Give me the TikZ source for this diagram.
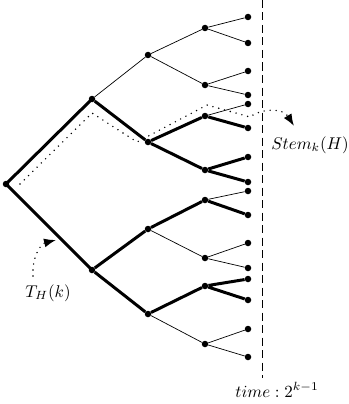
\documentclass[tikz,border=0pt]{standalone}
\usetikzlibrary{arrows.meta}
\begin{document}
\begin{tikzpicture}[x=1pt,y=-1pt,
  dot/.style={circle,fill=black,inner sep=0pt,minimum size=6.5pt},
  thin edge/.style={line width=0.7pt},
  thick edge/.style={line width=3pt},
  dotpath/.style={line width=1.6pt,line cap=round,dash pattern=on 0pt off 6pt},
  timeline/.style={line width=0.9pt,dash pattern=on 8pt off 4.5pt},
  lab/.style={scale=1.7,inner sep=0pt},
  tip/.style={-{Latex[length=12pt,width=9pt]}}]
\useasboundingbox (0,0) rectangle (348,404);
% nodes
\node[dot] (r) at (6,184) {};
\node[dot] (a) at (92,99) {};
\node[dot] (b) at (92,270) {};
\node[dot] (a1) at (148,55) {};
\node[dot] (a2) at (148,142) {};
\node[dot] (b1) at (148,229) {};
\node[dot] (b2) at (148,314) {};
\node[dot] (c1) at (205,28) {};
\node[dot] (c2) at (205,85) {};
\node[dot] (c3) at (205,116) {};
\node[dot] (c4) at (205,170) {};
\node[dot] (c5) at (205,200) {};
\node[dot] (c6) at (205,258) {};
\node[dot] (c7) at (205,286) {};
\node[dot] (c8) at (205,344) {};
\foreach \i/\y in {1/17,2/43,3/71,4/95,5/104,6/128,7/157,8/182,9/191,10/215,11/243,12/268,13/279,14/300,15/329,16/357}
  \node[dot] (l\i) at (248,\y) {};
% thin edges
\draw[thin edge] (a)--(a1) (a1)--(c1) (a1)--(c2) (c1)--(l1) (c1)--(l2) (c2)--(l3) (c2)--(l4)
  (c3)--(l5) (c5)--(l9) (b1)--(c6) (c6)--(l11) (c6)--(l12) (b2)--(c8) (c8)--(l15) (c8)--(l16);
% thick edges
\draw[thick edge] (r.center)--(a.center) (r.center)--(b.center) (a)--(a2) (a2)--(c3) (c3)--(l6) (a2)--(c4) (c4)--(l7) (c4)--(l8)
  (b)--(b1) (b1)--(c5) (c5)--(l10) (b)--(b2) (b2)--(c7) (c7)--(l13) (c7)--(l14);
% time line
\coordinate (tt) at (262,0);
\coordinate (tb) at (262,378);
\draw[timeline] (tt)--(tb);
\node[lab,anchor=base] (time) at (277,397) {$time:2^{k-1}$};
% stem path
\coordinate (s0) at (20,184);
\coordinate (s1) at (92,113);
\coordinate (s2) at (137,142);
\coordinate (s3) at (207,105);
\coordinate (s4) at (250,117);
\coordinate (s5) at (294,126);
\draw[dotpath,tip] (s0)--(s1)--(s2)--(s3)--(s4) .. controls (262,108) and (283,108) .. (s5);
\node[lab,anchor=west] (stem) at (271,145) {$Stem_k(H)$};
% T_H(k)
\node[lab] (th) at (48,293) {$T_H(k)$};
\coordinate (t0) at (33,276);
\coordinate (t1) at (56,240);
\draw[dotpath,tip] (t0) .. controls (32,258) and (40,244) .. (t1);
\end{tikzpicture}
\end{document}
